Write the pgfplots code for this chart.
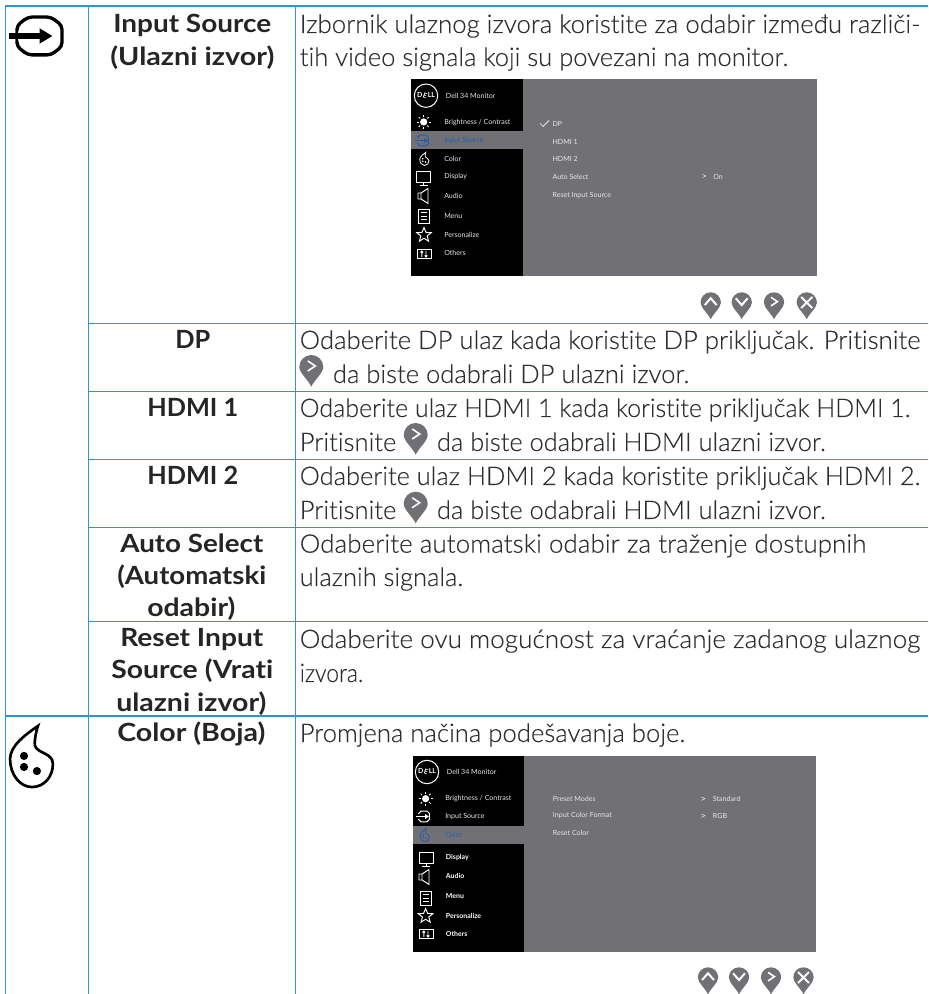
\documentclass[border=0pt]{standalone}
\usepackage{fontspec}
\setmainfont{Lato Light}[BoldFont=Lato Bold,Ligatures=CommonOff,UprightFeatures={FakeBold=0.18}]
\newfontfamily\mfont{Lato}
\usepackage{graphicx}
\usepackage{pgfplots}
\usetikzlibrary{calc}
\pgfplotsset{compat=1.18}
\definecolor{lineblue}{HTML}{2E96D6}
\definecolor{txt}{HTML}{2F2F31}
\definecolor{pingray}{HTML}{717074}
\definecolor{menublue}{HTML}{1F5FB0}
\definecolor{menutxt}{HTML}{E6E6E6}
% body line: start x, baseline y, end x, text
\newcommand{\body}[4]{\pgfmathsetlengthmacro\mywd{(#3-#1)*0.75pt}\node[anchor=base west,inner sep=0pt,text=txt,font=\fontsize{19.2}{20}\selectfont] at (#1,#2) {\resizebox{\mywd}{\height}{#4}};}
% bold line: start x, end x, baseline y, text
\newcommand{\head}[4]{\pgfmathsetlengthmacro\mywd{(#2-#1)*0.75pt}\node[anchor=base west,inner sep=0pt,text=txt!80!black,font=\fontsize{18.8}{20}\selectfont\bfseries] at (#1,#3) {\resizebox{\mywd}{\height}{#4}};}
\newcommand{\mtext}[4][menutxt]{\node[anchor=west,inner sep=0pt,text=#1,font=\mfont\fontsize{5.3}{6}\selectfont] at (#2,#3) {#4};}
\newcommand{\mbold}[3]{\node[anchor=west,inner sep=0pt,text=white,font=\fontsize{5.2}{6}\selectfont\bfseries] at (#1,#2) {#3};}
% pin: centre of the head at (0,0), radius 12
\newcommand{\pinshape}{\fill[pingray] (-12,0) .. controls (-12,-6.6) and (-6.6,-12) .. (0,-12) .. controls (6.6,-12) and (12,-6.6) .. (12,0) .. controls (12,6) and (3,13) .. (0,19.7) .. controls (-3,13) and (-12,6) .. cycle;}
\newcommand{\pinR}[3]{\begin{scope}[shift={(#1,#2)},scale=#3]\pinshape\draw[white,line width=1.2pt] (-3.5,-6) -- (4,-1) -- (-3.5,4);\end{scope}}
\newcommand{\pinU}[3]{\begin{scope}[shift={(#1,#2)},scale=#3]\pinshape\draw[white,line width=1.5pt] (-7,3) -- (0,-5) -- (7,3);\end{scope}}
\newcommand{\pinD}[3]{\begin{scope}[shift={(#1,#2)},scale=#3]\pinshape\draw[white,line width=1.5pt] (-7,-5) -- (0,3) -- (7,-5);\end{scope}}
\newcommand{\pinX}[3]{\begin{scope}[shift={(#1,#2)},scale=#3]\pinshape\draw[white,line width=1.5pt] (-6.5,-6.5) -- (6.5,6.5) (-6.5,6.5) -- (6.5,-6.5);\end{scope}}
\newcommand{\icInput}[4]{\begin{scope}[shift={(#1,#2)},scale=#3,#4,line width=.7pt]
 \draw (-9,-4) -- (-9,-5) -- (-5,-9) -- (5,-9) -- (9,-5) -- (9,5) -- (5,9) -- (-5,9) -- (-9,5) -- (-9,4);
 \draw (-14,0) -- (4,0); \fill[#4] (2,-4) -- (8,0) -- (2,4) -- cycle;\end{scope}}
\newcommand{\icColor}[5]{\begin{scope}[shift={(#1,#2)},scale=#3,#4,line width=#5pt]
 \draw (2.9,-16.6) .. controls (-3,-12.5) and (-10.7,-7) .. (-10.7,-.5) .. controls (-10.7,7) and (-6,13.2) .. (0,13.2) .. controls (6,13.2) and (10.2,8) .. (10.2,2) .. controls (10.2,-3.5) and (3,-3) .. (1.5,-6.8) .. controls (1,-9) and (2,-14) .. (2.9,-16.6) -- cycle;
 \fill (-3.9,-2) circle[radius=2] (-3.9,3.4) circle[radius=2] (2.4,5.4) circle[radius=2];\end{scope}}
\begin{document}
\begin{tikzpicture}
\path[use as bounding box] (0,0) rectangle (696pt,745.5pt);
\begin{axis}[at={(0,0)},anchor=south west,scale only axis,width=696pt,height=745.5pt,
  xmin=0,xmax=928,ymin=0,ymax=994,y dir=reverse,hide axis,clip=false]
% menu screens
\addplot[draw=none,fill=pingray] coordinates {(411,79) (816.7,79) (816.7,275.7) (411,275.7)} --cycle;
\addplot[draw=none,fill=black] coordinates {(411,79) (523,79) (523,275.7) (411,275.7)} --cycle;
\addplot[draw=none,fill=pingray] coordinates {(411,131) (523,131) (523,149) (411,149)} --cycle;
\addplot[draw=none,fill=pingray] coordinates {(413,756) (816,756) (816,952) (413,952)} --cycle;
\addplot[draw=none,fill=black] coordinates {(413,756) (524,756) (524,952) (413,952)} --cycle;
\addplot[draw=none,fill=pingray] coordinates {(413,826) (524,826) (524,844) (413,844)} --cycle;
% table rules
\addplot[lineblue,line width=1.5pt] coordinates {(4.5,6.5) (928,6.5)};
\addplot[lineblue,line width=1.3pt] coordinates {(4.5,715.7) (928,715.7)};
\addplot[lineblue,line width=1pt] coordinates {(88.5,323.5) (928,323.5)};
\addplot[lineblue,line width=1pt] coordinates {(88.5,391.5) (928,391.5)};
\addplot[lineblue,line width=1pt] coordinates {(88.5,459.5) (928,459.5)};
\addplot[lineblue,line width=1pt] coordinates {(88.5,527.5) (928,527.5)};
\addplot[lineblue,line width=1pt] coordinates {(88.5,621.5) (928,621.5)};
\addplot[lineblue,line width=1pt] coordinates {(5.5,6.5) (5.5,994)};
\addplot[lineblue,line width=1pt] coordinates {(88.5,6.5) (88.5,994)};
\addplot[lineblue,line width=1pt] coordinates {(295.5,6.5) (295.5,994)};
\end{axis}
\begin{scope}[shift={(0,745.5pt)},x=.75pt,y=-.75pt]
% big icons
\begin{scope}[shift={(39.5,36)},scale=2.1,black]
 \draw[line width=2.5pt,rounded corners=3pt] (-10.7,-3.8) -- (-10.7,-5) -- (-5.5,-9) -- (5.5,-9) -- (10.7,-5) -- (10.7,5) -- (5.5,9) -- (-5.5,9) -- (-10.7,5) -- (-10.7,3.8);
 \draw[line width=4.2pt] (-14.5,0) -- (1,0);
 \fill (0,-3.7) -- (6.1,0) -- (0,3.7) -- cycle;
\end{scope}
\icColor{32}{760}{2.05}{black}{2}
% column 1
\head{113}{271}{33}{Input Source}
\head{110}{274}{66}{(Ulazni izvor)}
\head{175}{210}{349}{DP}
\head{147}{238}{417}{HDMI 1}
\head{147}{238}{485}{HDMI 2}
\head{120}{263}{553}{Auto Select}
\head{117}{266}{585}{(Automatski}
\head{147}{235}{617}{odabir)}
\head{120}{263}{647}{Reset Input}
\head{111}{273}{679}{Source (Vrati}
\head{116}{266}{712}{ulazni izvor)}
\head{117}{265}{742}{Color (Boja)}
% column 2
\body{299.5}{33}{920}{Izbornik ulaznog izvora koristite za odabir između različi-}
\body{299.5}{66}{788}{tih video signala koji su povezani na monitor.}
\body{299.5}{349}{920}{Odaberite DP ulaz kada koristite DP priključak. Pritisnite}
\pinR{311.3}{367}{1}
\body{332.7}{383}{689}{da biste odabrali DP ulazni izvor.}
\body{299.5}{417}{910}{Odaberite ulaz HDMI 1 kada koristite priključak HDMI 1.}
\body{299.5}{451}{396}{Pritisnite}
\pinR{415.7}{435}{1}
\body{436.7}{451}{825.5}{da biste odabrali HDMI ulazni izvor.}
\body{299.5}{485}{920}{Odaberite ulaz HDMI 2 kada koristite priključak HDMI 2.}
\body{299.5}{519}{396}{Pritisnite}
\pinR{415.7}{503.7}{1}
\body{436.7}{519}{825.5}{da biste odabrali HDMI ulazni izvor.}
\body{299.5}{552.7}{866}{Odaberite automatski odabir za traženje dostupnih}
\body{299.5}{586}{463}{ulaznih signala.}
\body{299.5}{648}{920}{Odaberite ovu mogućnost za vraćanje zadanog ulaznog}
\body{299.5}{682}{363}{izvora.}
\body{299.5}{742}{685}{Promjena načina podešavanja boje.}
% pins below the screens
\pinU{710.7}{302.5}{.85}\pinD{741.7}{302.5}{.85}\pinR{774}{302.5}{.85}\pinX{806.7}{302.5}{.85}
\pinU{708}{977.5}{.85}\pinD{739}{977.5}{.85}\pinR{771}{977.5}{.85}\pinX{803.5}{977.5}{.85}
% ---------- screen 1 ----------
\draw[white,line width=.75pt] (426,95.7) circle[radius=11.7];
\node[text=white,inner sep=0pt,font=\fontsize{5.2}{6}\selectfont\bfseries] at (426,95.7) {D\rotatebox{-20}{E}LL};
\mtext{445.7}{95.7}{Dell 34 Monitor}
\mtext{444}{122.5}{Brightness / Contrast}
\mtext[menublue]{444}{140.5}{Input Source}
\mtext{444}{159}{Color}
\mtext{444}{176.7}{Display}
\mtext{444}{195.7}{Audio}
\mtext{444}{215.7}{Menu}
\mtext{444}{234.7}{Personalize}
\mtext{444}{253}{Others}
\mtext{552.3}{123.5}{DP}
\mtext{552.3}{141.7}{HDMI 1}
\mtext{552.3}{158.7}{HDMI 2}
\mtext{552.3}{176.7}{Auto Select}
\mtext{552.3}{195.7}{Reset Input Source}
\mtext{713}{176.7}{On}
\draw[menutxt,line width=.4pt] (702.5,174.5) -- (706,176) -- (702.5,177.5);
\draw[menutxt,line width=.55pt] (540,123.5) -- (543,126.5) -- (549,120.5);
% icons screen 1
\begin{scope}[white,line width=.6pt]
 \fill (423.7,122) circle[radius=3.6];
 \foreach \a in {0,45,...,315}{\draw ($(423.7,122)+(\a:5)$) -- ($(423.7,122)+(\a:7)$);}
\end{scope}
\icInput{423}{140.5}{.6}{menublue}
\icColor{424.5}{159.7}{.44}{white}{.6}
\begin{scope}[shift={(423.7,177)},white,line width=.7pt]
 \draw (-7,-6) rectangle (7,5); \draw (0,5) -- (0,8) (-4,8) -- (4,8);
\end{scope}
\begin{scope}[shift={(424,196)},white,line width=.7pt]
 \draw (-3,-3) -- (4,-7.5) -- (4,7.5) -- (-3,3) -- cycle (-3,-3) -- (-6,-3) -- (-6,3) -- (-3,3);
\end{scope}
\begin{scope}[shift={(424,216)},white,line width=.7pt]
 \draw (-5.3,-7) rectangle (5.3,7);
 \draw (-3,-3.5) -- (3,-3.5) (-3,0) -- (3,0) (-3,3.5) -- (3,3.5);
\end{scope}
\begin{scope}[shift={(424,235)},white,line width=.7pt]
 \draw (0,-7.5) -- (2,-2.6) -- (7.3,-2.3) -- (3.2,1) -- (4.6,6.2) -- (0,3.3) -- (-4.6,6.2) -- (-3.2,1) -- (-7.3,-2.3) -- (-2,-2.6) -- cycle;
\end{scope}
\begin{scope}[shift={(424,254)},white,line width=.7pt]
 \draw (-7,-4.5) rectangle (7,4.5);
 \draw (-2.2,3) -- (-2.2,-3) (-3.5,-1.5) -- (-2.2,-3) -- (-.9,-1.5) (2,-3) -- (2,3) (.7,1.5) -- (2,3) -- (3.3,1.5);
\end{scope}
% ---------- screen 2 ----------
\draw[white,line width=.75pt] (427,772) circle[radius=11.7];
\node[text=white,inner sep=0pt,font=\fontsize{5.2}{6}\selectfont\bfseries] at (427,772) {D\rotatebox{-20}{E}LL};
\mtext{446.7}{772.3}{Dell 34 Monitor}
\mtext{445}{798.7}{Brightness / Contrast}
\mtext{445}{816.7}{Input Source}
\mtext[menublue]{445}{835.3}{Color}
\mbold{445.7}{857.7}{Display}
\mbold{445.7}{875.7}{Audio}
\mbold{445.7}{895.7}{Menu}
\mbold{445.7}{915.7}{Personalize}
\mbold{445.7}{933.7}{Others}
\mtext{552.7}{798.7}{Preset Modes}
\mtext{552.7}{815.7}{Input Color Format}
\mtext{552.7}{832.7}{Reset Color}
\mtext{712.7}{798.7}{Standard}
\mtext{712.7}{815.7}{RGB}
\draw[menutxt,line width=.4pt] (701.5,797) -- (705,798.7) -- (701.5,800.4);
\draw[menutxt,line width=.4pt] (701.5,814) -- (705,815.7) -- (701.5,817.4);
\begin{scope}[white,line width=.6pt]
 \fill (425.6,798.7) circle[radius=3.6];
 \foreach \a in {0,45,...,315}{\draw ($(425.6,798.7)+(\a:5)$) -- ($(425.6,798.7)+(\a:7)$);}
\end{scope}
\icInput{424}{816.5}{.6}{white}
\icColor{425}{836}{.45}{menublue}{.6}
\begin{scope}[shift={(426,858)},white,line width=.7pt]
 \draw (-7,-6) rectangle (7,5); \draw (0,5) -- (0,8) (-4,8) -- (4,8);
\end{scope}
\begin{scope}[shift={(425,877)},white,line width=.7pt]
 \draw (-3,-3) -- (4,-7.5) -- (4,7.5) -- (-3,3) -- cycle (-3,-3) -- (-6,-3) -- (-6,3) -- (-3,3);
\end{scope}
\begin{scope}[shift={(426,898)},white,line width=.7pt]
 \draw (-5.3,-7) rectangle (5.3,7);
 \draw (-3,-3.5) -- (3,-3.5) (-3,0) -- (3,0) (-3,3.5) -- (3,3.5);
\end{scope}
\begin{scope}[shift={(425.6,916)},white,line width=.7pt]
 \draw (0,-7.5) -- (2,-2.6) -- (7.3,-2.3) -- (3.2,1) -- (4.6,6.2) -- (0,3.3) -- (-4.6,6.2) -- (-3.2,1) -- (-7.3,-2.3) -- (-2,-2.6) -- cycle;
\end{scope}
\begin{scope}[shift={(426,934)},white,line width=.7pt]
 \draw (-7,-4.5) rectangle (7,4.5);
 \draw (-2.2,3) -- (-2.2,-3) (-3.5,-1.5) -- (-2.2,-3) -- (-.9,-1.5) (2,-3) -- (2,3) (.7,1.5) -- (2,3) -- (3.3,1.5);
\end{scope}
\end{scope}
\end{tikzpicture}
\end{document}
